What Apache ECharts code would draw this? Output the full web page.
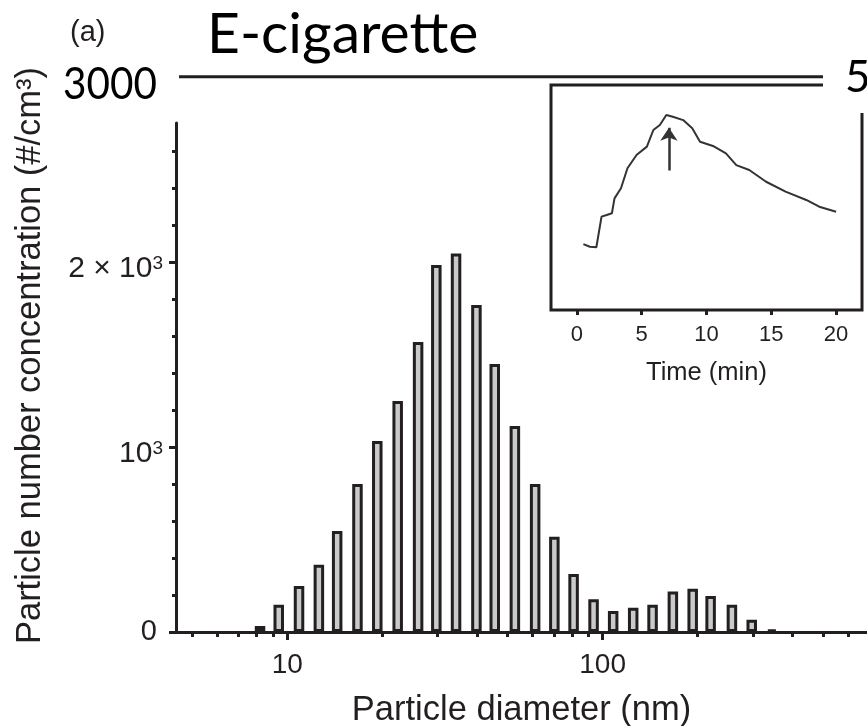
<!DOCTYPE html>
<html><head><meta charset="utf-8">
<script src="https://cdn.jsdelivr.net/npm/echarts@6/dist/echarts.min.js"></script>
<style>html,body{margin:0;padding:0;background:#fff}#c{width:867px;height:726px}</style>
</head><body><div id="c"></div>
<script>
// Size distribution (bars)
const diameters = [8.2, 9.4, 10.9, 12.6, 14.4, 16.7, 19.3, 22.4, 26.0, 29.7, 34.3, 39.8, 45.5, 52.7, 61.1, 70.3, 80.9, 93.6, 108, 125, 144, 167, 193, 220, 257, 297, 344];
const concentrations = [33, 147, 249, 363, 546, 800, 1032, 1248, 1567, 1983, 2045, 1767, 1448, 1113, 800, 514, 314, 177, 114, 131, 147, 219, 233, 195, 147, 66, 13];
const xMajorTicks = [10, 100];
const xMinorTicks = [5, 6, 7, 8, 9, 20, 30, 40, 50, 60, 70, 80, 90, 200, 300, 400, 500, 600];
const yMajorTicks = [0, 1000, 2000];
const yMinorTicks = [200, 400, 600, 800, 1200, 1400, 1600, 1800, 2200, 2400, 2600];
const refLineValue = 3000;
// Inset time series (arbitrary units)
const insetTime = [0.5, 1.0, 1.5, 1.9, 2.3, 2.7, 2.9, 3.4, 3.9, 4.6, 5.4, 5.9, 6.4, 6.9, 7.4, 8.2, 8.9, 9.5, 10.5, 11.5, 12.3, 13.3, 14.6, 16.1, 17.7, 18.7, 20.0];
const insetSignal = [29.3, 28.1, 27.9, 41.5, 42.2, 43.0, 49.6, 54.1, 63.0, 68.9, 72.6, 80.0, 82.2, 86.7, 85.9, 84.4, 80.8, 74.8, 72.9, 69.6, 64.4, 62.2, 57.0, 52.6, 48.9, 45.9, 43.7];
const insetTicks = [0, 5, 10, 15, 20];
const arrowTime = 7.1, arrowFrom = 62, arrowTo = 81;

const INK = '#231f20';
const SANS = 'Liberation Sans, Arial, sans-serif';
const chart = echarts.init(document.getElementById('c'));
chart.setOption({
  animation: false,
  backgroundColor: '#fff',
  title: { text: 'E-cigarette', left: 202, top: 1,
    textStyle: { fontFamily: 'Lato', fontSize: 57, fontWeight: 'normal', color: '#000' } },
  grid: [
    { left: 176, top: 123, right: 0, bottom: 94, outerBoundsMode: 'none', containLabel: false },
    { left: 551, top: 85, width: 311, height: 225, outerBoundsMode: 'none', containLabel: false,
      show: true, borderColor: INK, borderWidth: 3, backgroundColor: '#fff' }
  ],
  xAxis: [
    { type: 'log', gridIndex: 0, position: 'bottom', min: 4.44, max: 689,
      axisLine: { show: true, lineStyle: { color: INK, width: 3 } },
      axisTick: { show: true, customValues: xMajorTicks, length: 8, lineStyle: { color: INK, width: 3 } },
      axisLabel: { customValues: xMajorTicks, fontFamily: SANS, fontSize: 28, color: INK, margin: 19 },
      splitLine: { show: false }, minorTick: { show: false },
      name: 'Particle diameter (nm)', nameLocation: 'middle', nameGap: 61,
      nameTextStyle: { fontFamily: SANS, fontSize: 34.5, color: INK } },
    { type: 'log', gridIndex: 0, position: 'bottom', min: 4.44, max: 689,
      axisLine: { show: false },
      axisTick: { show: true, customValues: xMinorTicks, length: 5, lineStyle: { color: INK, width: 3 } },
      axisLabel: { show: false }, splitLine: { show: false } },
    { type: 'value', gridIndex: 1, min: -2, max: 22,
      axisLine: { show: false }, splitLine: { show: false },
      axisTick: { show: true, customValues: insetTicks, length: 5, lineStyle: { color: INK, width: 3 } },
      axisLabel: { customValues: insetTicks, fontFamily: SANS, fontSize: 22, color: INK, margin: 14 },
      name: 'Time (min)', nameLocation: 'middle', nameGap: 50,
      nameTextStyle: { fontFamily: SANS, fontSize: 25.5, color: INK } }
  ],
  yAxis: [
    { type: 'value', gridIndex: 0, position: 'left', min: 0, max: 2750,
      axisLine: { show: true, lineStyle: { color: INK, width: 3 } },
      axisTick: { show: true, customValues: yMajorTicks, length: 7, lineStyle: { color: INK, width: 3 } },
      axisLabel: { customValues: yMajorTicks, margin: 13, color: INK, padding: [14, 0, 0, 0],
        formatter: v => v === 0 ? '{z|0}' : (v === 1000 ? '{b|10}{s|3}' : '{b|2 × 10}{s|3}'),
        rich: {
          b: { fontFamily: SANS, fontSize: 30, color: INK },
          z: { fontFamily: SANS, fontSize: 29, color: INK, padding: [0, 6, 14, 0] },
          s: { fontFamily: SANS, fontSize: 19, color: INK, verticalAlign: 'top', padding: [0, 0, 8, 0] }
        } },
      splitLine: { show: false },
      name: 'Particle number concentration (#/cm³)', nameLocation: 'middle', nameGap: 128,
      nameTextStyle: { fontFamily: SANS, fontSize: 34.5, color: INK, padding: [0, 0, 0, 44] } },
    { type: 'value', gridIndex: 0, position: 'left', min: 0, max: 2750,
      axisLine: { show: false },
      axisTick: { show: true, customValues: yMinorTicks, length: 4, lineStyle: { color: INK, width: 3 } },
      axisLabel: { show: false }, splitLine: { show: false } },
    { type: 'value', gridIndex: 1, min: 0, max: 100, show: false }
  ],
  series: [
    { type: 'bar', xAxisIndex: 0, yAxisIndex: 0, barWidth: 10.5,
      data: diameters.map((d, i) => [d, concentrations[i]]),
      itemStyle: { color: '#c9cacc', borderColor: INK, borderWidth: 3 } },
    { type: 'line', xAxisIndex: 2, yAxisIndex: 2, symbol: 'none',
      data: insetTime.map((t, i) => [t, insetSignal[i]]),
      lineStyle: { color: '#333333', width: 2 },
      markLine: { silent: true, animation: false, symbol: ['none', 'arrow'], symbolSize: 13,
        lineStyle: { color: '#333333', width: 2.5, type: 'solid' }, label: { show: false },
        data: [[{ coord: [arrowTime, arrowFrom] }, { coord: [arrowTime, arrowTo] }]] } }
  ]
});

// Reference level (3000) placed through the main y axis scale
const refY = chart.convertToPixel({ yAxisIndex: 0 }, refLineValue);
const axisX = chart.convertToPixel({ xAxisIndex: 0 }, 4.44);
chart.setOption({
  graphic: [
    { type: 'line', z: 100, shape: { x1: axisX + 3, y1: refY, x2: 823, y2: refY }, style: { stroke: INK, lineWidth: 3 } },
    { type: 'text', z: 100, x: 157, y: refY + 8, scaleX: 0.92,
      style: { text: String(refLineValue), x: 0, y: 0, font: '44px Lato', fill: '#000', align: 'right', verticalAlign: 'middle' } },
    { type: 'text', z: 100, style: { text: '(a)', x: 70, y: 18, font: '29px ' + SANS, fill: INK } },
    { type: 'rect', z: 100, shape: { x: 823, y: 50, width: 44, height: 63 }, style: { fill: '#fff' } },
    { type: 'text', z: 101, style: { text: '5', x: 845, y: 56, font: '44px Lato', fill: '#000' } }
  ]
});
</script></body></html>
